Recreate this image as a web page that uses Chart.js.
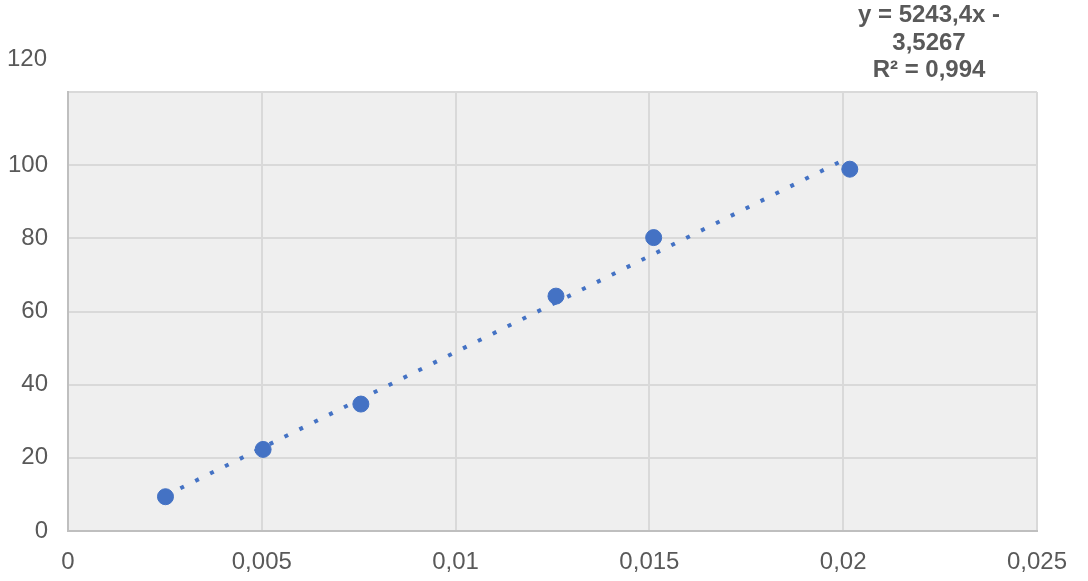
<!DOCTYPE html>
<html>
<head>
<meta charset="utf-8">
<script src="https://cdn.jsdelivr.net/npm/chart.js@4"></script>
<style>
	html, body { margin: 0; padding: 0; background: #fff; }
	.chart-box { width: 1088px; height: 581px; position: relative; }
</style>
</head>
<body>
<div class="chart-box"><canvas id="chart"></canvas></div>
<script>
const xValues = [0.002515, 0.005034, 0.007556, 0.01259, 0.01511, 0.02017];
const yValues = [9.37, 22.3, 34.7, 64.2, 80.2, 98.9];
const yTicks = [0, 20, 40, 60, 80, 100, 120];
const xTicks = [0, 0.005, 0.01, 0.015, 0.02, 0.025];
// trendline as printed on the chart
const slope = 5243.4;
const intercept = -3.5267;
const trendLabel = ["y = 5243,4x -", "3,5267", "R² = 0,994"];

const textColor = "#595959";
const blue = "#4472c4";
const font = "Liberation Sans, Arial, sans-serif";

const points = xValues.map((x, i) => ({ x: x, y: yValues[i] }));
const trendX = [xValues[0], xValues[xValues.length - 1]];
const trend = trendX.map(x => ({ x: x, y: slope * x + intercept }));

const commaNum = v => String(Number(v.toFixed(4))).replace(".", ",");

const decor = {
	id: "decor",
	beforeDraw(chart) {
		const { ctx, chartArea: a } = chart;
		ctx.save();
		ctx.fillStyle = "#efefef";
		ctx.fillRect(a.left, a.top, a.right - a.left, a.bottom - a.top);
		ctx.restore();
	},
	afterDraw(chart) {
		const { ctx } = chart;
		const y = chart.scales.y;
		ctx.save();
		ctx.fillStyle = textColor;
		// top tick label sits above the plot in the original
		ctx.font = "24px " + font;
		ctx.textAlign = "right";
		ctx.textBaseline = "middle";
		ctx.fillText("120", 47, y.getPixelForValue(120) - 33);

		ctx.font = "bold 24px " + font;
		ctx.textAlign = "center";
		ctx.textBaseline = "alphabetic";
		trendLabel.forEach((line, i) => {
			ctx.fillText(line, 929, 22 + i * 27.5);
		});
		ctx.restore();
	},
};

new Chart(document.getElementById("chart"), {
	type: "scatter",
	plugins: [decor],
	data: {
		datasets: [
			{
				data: points,
				backgroundColor: blue,
				borderColor: blue,
				pointRadius: 8,
				pointHoverRadius: 8,
				order: 0,
			},
			{
				type: "line",
				data: trend,
				showLine: true,
				borderColor: blue,
				borderWidth: 4,
				borderDash: [4, 12.6],
				borderCapStyle: "butt",
				pointRadius: 0,
				fill: false,
				order: 1,
			},
		],
	},
	options: {
		responsive: true,
		maintainAspectRatio: false,
		animation: false,
		layout: { padding: { top: 92, right: 51, bottom: 0, left: 0 } },
		plugins: {
			legend: { display: false },
			tooltip: { enabled: false },
		},
		scales: {
			x: {
				type: "linear",
				min: 0,
				max: 0.025,
				afterFit: s => { s.height = 50; },
				afterBuildTicks: s => { s.ticks = xTicks.map(v => ({ value: v })); },
				ticks: {
					color: textColor,
					font: { family: font, size: 24 },
					padding: 17,
					maxRotation: 0,
					callback: v => commaNum(v),
				},
				grid: { color: "#d9d9d9", lineWidth: 2, drawTicks: false },
				border: { color: "#bfbfbf", width: 2 },
			},
			y: {
				min: 0,
				max: 120,
				afterFit: s => { s.width = 68; },
				afterBuildTicks: s => { s.ticks = yTicks.map(v => ({ value: v })); },
				ticks: {
					color: textColor,
					font: { family: font, size: 24 },
					padding: 20,
					callback: v => (v === 120 ? "" : commaNum(v)),
				},
				grid: { color: "#d9d9d9", lineWidth: 2, drawTicks: false },
				border: { color: "#bfbfbf", width: 2 },
			},
		},
	},
});
</script>
</body>
</html>
